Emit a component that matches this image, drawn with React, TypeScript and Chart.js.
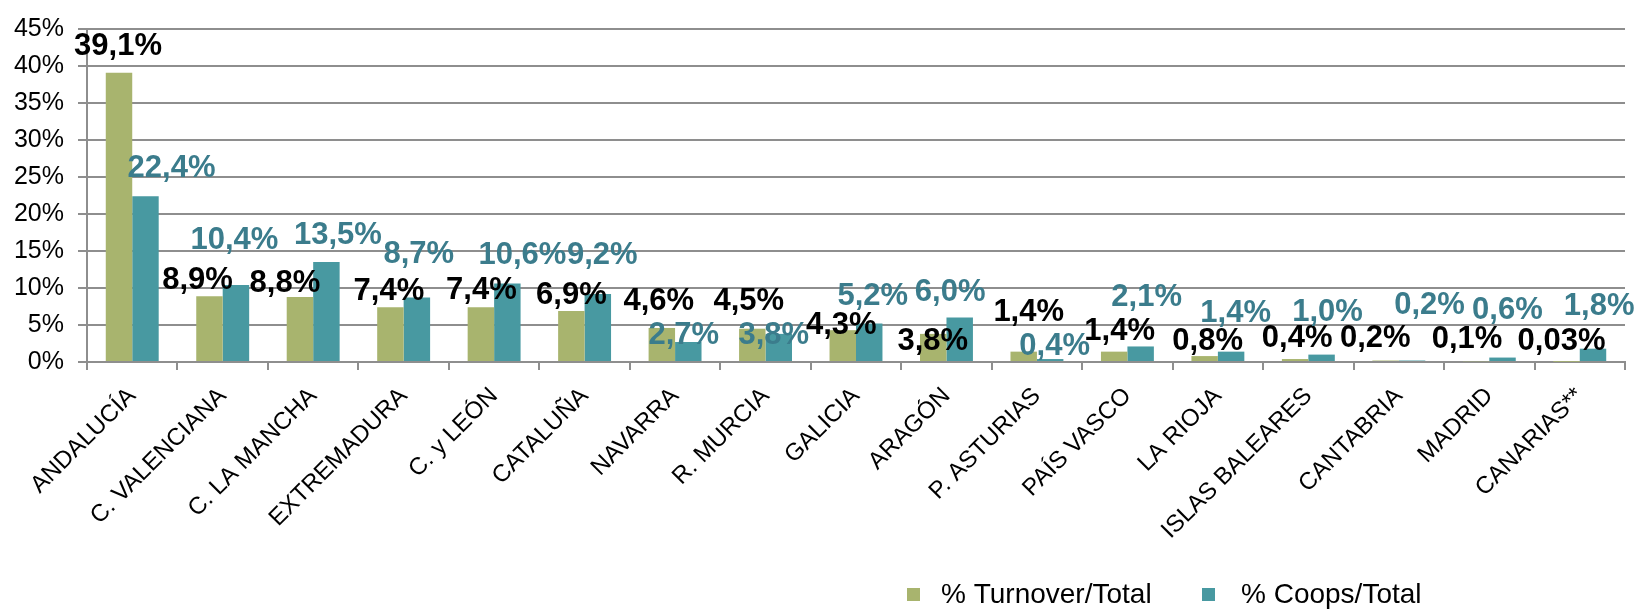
import React, { useEffect, useRef } from "react";
import { Chart, registerables } from "chart.js";

Chart.register(...registerables);

const categories = [
  "ANDALUCÍA",
  "C. VALENCIANA",
  "C. LA MANCHA",
  "EXTREMADURA",
  "C. y LEÓN",
  "CATALUÑA",
  "NAVARRA",
  "R. MURCIA",
  "GALICIA",
  "ARAGÓN",
  "P. ASTURIAS",
  "PAÍS VASCO",
  "LA RIOJA",
  "ISLAS BALEARES",
  "CANTABRIA",
  "MADRID",
  "CANARIAS**",
];

const seriesNames = ["% Turnover/Total", "% Coops/Total"];

const turnover = [39.1, 8.9, 8.8, 7.4, 7.4, 6.9, 4.6, 4.5, 4.3, 3.8, 1.4, 1.4, 0.8, 0.4, 0.2, 0.1, 0.03];
const coops = [22.4, 10.4, 13.5, 8.7, 10.6, 9.2, 2.7, 3.8, 5.2, 6.0, 0.4, 2.1, 1.4, 1.0, 0.2, 0.6, 1.8];

const yTicks = [0, 5, 10, 15, 20, 25, 30, 35, 40, 45];

// Label placement (as in the original, labels were hand-placed): offset in category widths, height in % units
const turnoverLabelDx = [-0.157, -0.278, -0.312, -0.163, -0.141, -0.146, -0.18, -0.185, -0.163, -0.152, -0.091, -0.086, -0.113, -0.124, -0.26, -0.246, -0.202];
const turnoverLabelAt = [42.65, 11.02, 10.56, 9.52, 9.65, 8.93, 8.22, 8.22, 4.89, 2.74, 6.65, 4.17, 2.74, 3.13, 3.13, 3.0, 2.74];
const coopsLabelDx = [0.434, 0.13, 0.273, 0.168, 0.312, 0.195, 0.097, 0.091, 0.185, 0.041, 0.196, 0.213, 0.196, 0.212, 0.34, 0.2, 0.214];
const coopsLabelAt = [26.22, 16.43, 17.09, 14.48, 14.35, 14.35, 3.65, 3.65, 8.87, 9.39, 2.09, 8.74, 6.52, 6.65, 7.7, 6.91, 7.57];

const GREEN = "#A8B46E";
const TEAL = "#4899A1";
const TEAL_TEXT = "#3B7C8C";
const GRID = "#8E8E8E";
const FONT = "'Liberation Sans', Arial, Helvetica, sans-serif";

function fmt(v: number): string {
  const d = v < 0.1 ? 2 : 1;
  return v.toFixed(d).replace(".", ",") + "%";
}

const labelPlugin = {
  id: "valueLabels",
  afterDatasetsDraw(chart: any) {
    const ctx = chart.ctx;
    const xs = chart.scales.x;
    const ys = chart.scales.y;
    const catW = (xs.right - xs.left) / categories.length;
    ctx.save();
    ctx.font = `bold 31px ${FONT}`;
    ctx.textAlign = "center";
    ctx.textBaseline = "middle";
    const sets = [
      { vals: turnover, dx: turnoverLabelDx, at: turnoverLabelAt, color: "#000000" },
      { vals: coops, dx: coopsLabelDx, at: coopsLabelAt, color: TEAL_TEXT },
    ];
    sets.forEach((s) => {
      ctx.fillStyle = s.color;
      s.vals.forEach((v, i) => {
        const x = xs.getPixelForValue(i) + s.dx[i] * catW;
        const y = ys.getPixelForValue(s.at[i]);
        ctx.fillText(fmt(v), x, y);
      });
    });
    ctx.restore();
  },
};

const legendPlugin = {
  id: "customLegend",
  afterDraw(chart: any) {
    const ctx = chart.ctx;
    ctx.save();
    ctx.font = `28px ${FONT}`;
    ctx.textBaseline = "middle";
    ctx.textAlign = "left";
    const items = [
      { color: GREEN, sx: 907, tx: 941 },
      { color: TEAL, sx: 1202, tx: 1241 },
    ];
    items.forEach((it, i) => {
      ctx.fillStyle = it.color;
      ctx.fillRect(it.sx, 588, 13, 13);
      ctx.fillStyle = "#000000";
      ctx.fillText(seriesNames[i], it.tx, 595);
    });
    ctx.restore();
  },
};

export default function App() {
  const ref = useRef<HTMLCanvasElement>(null);
  useEffect(() => {
    if (!ref.current) return;
    const chart = new Chart(ref.current, {
      type: "bar",
      data: {
        labels: categories,
        datasets: [
          {
            label: seriesNames[0],
            data: turnover,
            backgroundColor: GREEN,
            categoryPercentage: 0.585,
            barPercentage: 1.0,
          },
          {
            label: seriesNames[1],
            data: coops,
            backgroundColor: TEAL,
            categoryPercentage: 0.585,
            barPercentage: 1.0,
          },
        ],
      },
      options: {
        animation: false,
        responsive: true,
        maintainAspectRatio: false,
        layout: { padding: { top: 17, right: 21, left: 0, bottom: 0 } },
        plugins: {
          legend: { display: false },
          tooltip: { enabled: false },
        },
        scales: {
          x: {
            grid: {
              display: true,
              drawOnChartArea: false,
              drawTicks: true,
              tickLength: 8,
              color: GRID,
              lineWidth: 2,
              offset: true,
            },
            border: { display: true, color: GRID, width: 2 },
            ticks: {
              autoSkip: false,
              minRotation: 45,
              maxRotation: 45,
              padding: 12,
              color: "#000000",
              font: { family: FONT, size: 24 },
            },
            afterFit: (scale: any) => {
              scale.height = 247;
            },
          },
          y: {
            min: 0,
            max: 45,
            afterBuildTicks: (scale: any) => {
              scale.ticks = yTicks.map((v) => ({ value: v }));
            },
            grid: {
              color: GRID,
              lineWidth: 2,
              drawTicks: true,
              tickLength: 9,
            },
            border: { display: true, color: GRID, width: 2 },
            ticks: {
              padding: 14,
              color: "#000000",
              font: { family: FONT, size: 25 },
              callback: (v: any) => v + "%",
            },
            afterFit: (scale: any) => {
              scale.width = 87;
            },
          },
        },
      },
      plugins: [labelPlugin, legendPlugin],
    });
    return () => chart.destroy();
  }, []);
  return (
    <div style={{ position: "fixed", left: 0, top: 0, width: 1646, height: 609, background: "#ffffff" }}>
      <canvas ref={ref} />
    </div>
  );
}
